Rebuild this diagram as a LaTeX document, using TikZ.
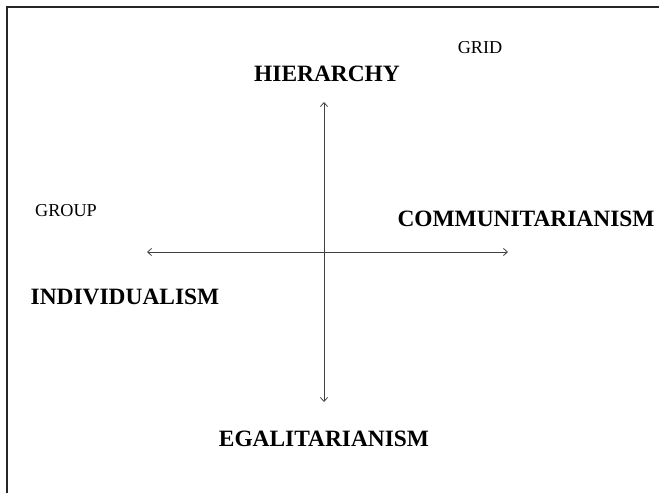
\documentclass[tikz,border=0pt]{standalone}
\usepackage{fontspec}
\setmainfont{Liberation Serif}
\usetikzlibrary{arrows.meta}
\tikzstyle{axis}=[<->, >={Straight Barb[length=2pt,width=3.6pt]}, thin, draw=black!75]
\tikzstyle{pole}=[inner sep=0pt, font=\fontsize{11.7}{14}\selectfont\bfseries]
\tikzstyle{dim}=[inner sep=0pt, font=\fontsize{9.1}{11}\selectfont]
\tikzstyle{frame}=[line width=1pt, draw=black!85]

\begin{document}
\begin{tikzpicture}[x=0.5pt, y=-0.5pt]
				\useasboundingbox (0,0) rectangle (659,493);
				%The frame
				\draw[frame] (6.5,493) |- (659,7);
				
				%The axes
				\coordinate (top) at (324,102);
				\coordinate (bottom) at (324,402);
				\coordinate (left) at (147,252);
				\coordinate (right) at (508,252);
				\draw[axis] (bottom) -- (top);
				\draw[axis] (left) -- (right);
				
				%The poles
				\draw (327,74) node[pole] (hier) {HIERARCHY};
				\draw (526,219) node[pole] (comm) {COMMUNITARIANISM};
				\draw (125,297) node[pole] (indiv) {INDIVIDUALISM};
				\draw (324,439) node[pole] (egal) {EGALITARIANISM};
				
				%The dimensions
				\draw (480,48) node[dim] (grid) {GRID};
				\draw (66,211) node[dim] (group) {GROUP};
			\end{tikzpicture}
\end{document}
